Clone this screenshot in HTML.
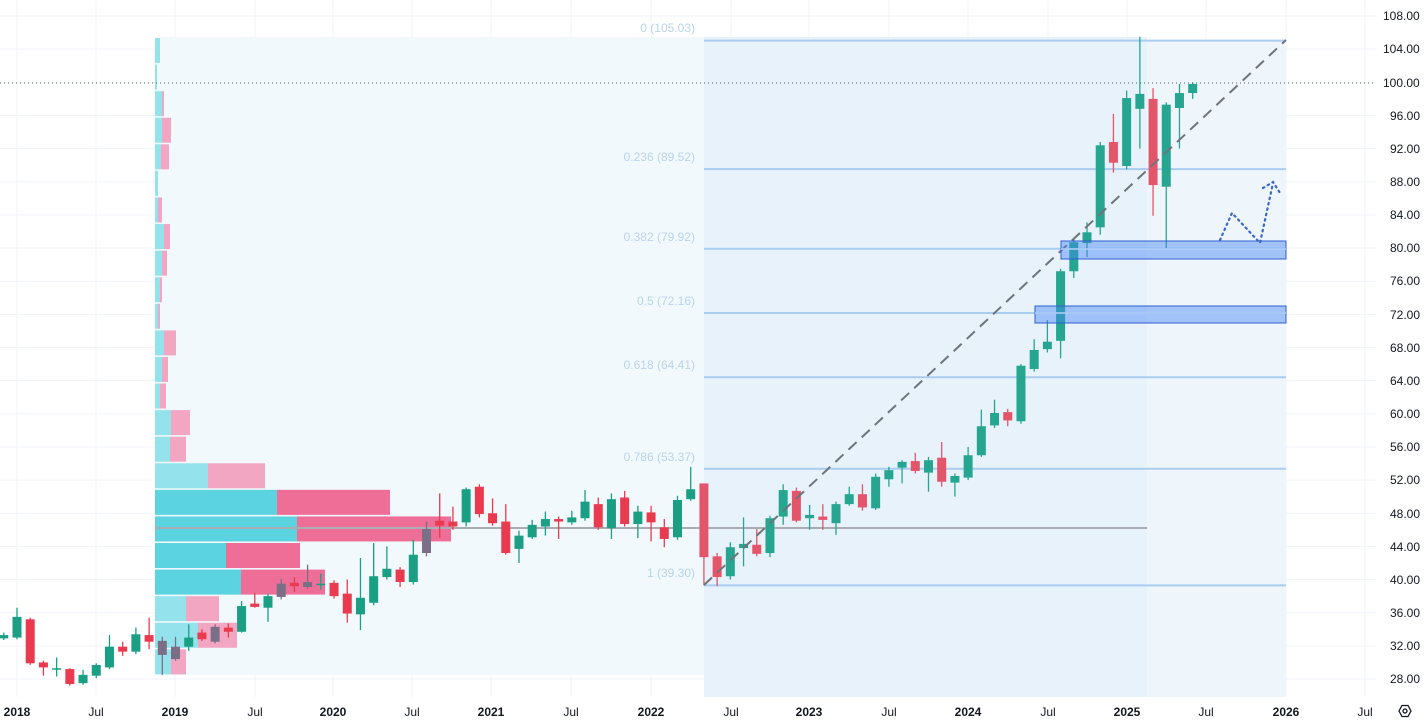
<!DOCTYPE html>
<html><head><meta charset="utf-8"><style>
html,body{margin:0;padding:0;background:#fff;}
svg{display:block;font-family:"Liberation Sans",sans-serif;}
</style></head><body>
<svg id="c" width="1424" height="724" viewBox="0 0 1424 724" xmlns="http://www.w3.org/2000/svg">
<rect width="1424" height="724" fill="#fff"/>
<g id="grid" stroke="#f0f3fa" stroke-width="1"></g>
<rect x="155" y="37" width="549" height="638" fill="#f2f9fd"/>
<rect x="704" y="37" width="443" height="660" fill="#e7f2fb"/>
<rect x="1147" y="40" width="139" height="657" fill="#eef6fc"/>
<g id="vp"></g>
<line x1="155" y1="528" x2="1147" y2="528" stroke="#a9adb3" stroke-width="2"/>
<g id="fib" stroke="#a9cdef" stroke-width="2"></g>
<g font-size="12" fill="#b9d3ea" text-anchor="end">
<text x="695" y="32">0 (105.03)</text>
<text x="695" y="161">0.236 (89.52)</text>
<text x="695" y="241">0.382 (79.92)</text>
<text x="695" y="305">0.5 (72.16)</text>
<text x="695" y="369">0.618 (64.41)</text>
<text x="695" y="461">0.786 (53.37)</text>
<text x="695" y="577">1 (39.30)</text>
</g>
<g id="candles"></g>
<line x1="704" y1="585" x2="1286" y2="40" stroke="#6f737a" stroke-width="2" stroke-dasharray="11 7"/>
<rect x="1061" y="241" width="225" height="18" fill="rgba(66,133,244,0.45)" stroke="#2f5fd0" stroke-width="1"/>
<line x1="1061" y1="249" x2="1286" y2="249" stroke="#b6d2f5" stroke-width="1.5"/>
<rect x="1035" y="306" width="251" height="17" fill="rgba(66,133,244,0.45)" stroke="#2f5fd0" stroke-width="1"/>
<line x1="1035" y1="313" x2="1286" y2="313" stroke="#b6d2f5" stroke-width="1.5"/>
<line x1="0" y1="83" x2="1375" y2="83" stroke="#55595f" stroke-width="1" stroke-dasharray="1 3"/>
<g fill="none" stroke="#3b66c8" stroke-width="2.2" stroke-dasharray="1.5 4" stroke-linecap="round">
<polyline points="1220,240 1232,213 1260,243 1273,183"/>
<polyline points="1263,188 1273,182 1280,193"/>
</g>
<rect x="1376" y="0" width="48" height="724" fill="#fff"/>
<rect x="0" y="697" width="1376" height="27" fill="#fff"/>
<g font-size="12" fill="#131722" text-anchor="start">
<text x="1383" y="20">108.00</text>
<text x="1383" y="53">104.00</text>
<text x="1383" y="87">100.00</text>
<text x="1390" y="120">96.00</text>
<text x="1390" y="153">92.00</text>
<text x="1390" y="186">88.00</text>
<text x="1390" y="219">84.00</text>
<text x="1390" y="252">80.00</text>
<text x="1390" y="285">76.00</text>
<text x="1390" y="319">72.00</text>
<text x="1390" y="352">68.00</text>
<text x="1390" y="385">64.00</text>
<text x="1390" y="418">60.00</text>
<text x="1390" y="451">56.00</text>
<text x="1390" y="484">52.00</text>
<text x="1390" y="518">48.00</text>
<text x="1390" y="551">44.00</text>
<text x="1390" y="584">40.00</text>
<text x="1390" y="617">36.00</text>
<text x="1390" y="650">32.00</text>
<text x="1390" y="683">28.00</text>
</g>
<g font-size="12" fill="#131722" text-anchor="middle">
<text x="17" y="716" font-weight="bold">2018</text>
<text x="96" y="716">Jul</text>
<text x="175" y="716" font-weight="bold">2019</text>
<text x="255" y="716">Jul</text>
<text x="333" y="716" font-weight="bold">2020</text>
<text x="412" y="716">Jul</text>
<text x="491" y="716" font-weight="bold">2021</text>
<text x="571" y="716">Jul</text>
<text x="651" y="716" font-weight="bold">2022</text>
<text x="731" y="716">Jul</text>
<text x="809" y="716" font-weight="bold">2023</text>
<text x="889" y="716">Jul</text>
<text x="968" y="716" font-weight="bold">2024</text>
<text x="1048" y="716">Jul</text>
<text x="1127" y="716" font-weight="bold">2025</text>
<text x="1206" y="716">Jul</text>
<text x="1286" y="716" font-weight="bold">2026</text>
<text x="1365" y="716">Jul</text>
</g>
<g transform="translate(1405,711)" fill="none" stroke="#131722" stroke-width="1.3">
<polygon points="-6,0 -3,-5.5 3,-5.5 6,0 3,5.5 -3,5.5"/>
<circle r="2"/>
</g>
</svg>
<script>
const NS="http://www.w3.org/2000/svg";
const Y=p=>16+(108-p)*8.2875;
const X=m=>17+13.21*m;
function el(t,a,parent){const e=document.createElementNS(NS,t);for(const k in a)e.setAttribute(k,a[k]);parent.appendChild(e);return e;}
const grid=document.getElementById('grid');
for(let p=28;p<=108;p+=4){el('line',{x1:0,x2:1376,y1:Y(p),y2:Y(p)},grid);}
[17,96,175,255,333,412,491,571,651,731,809,889,968,1048,1127,1206,1286,1365].forEach(x=>el('line',{x1:x,x2:x,y1:0,y2:697},grid));
const vp=document.getElementById('vp');
const rows=[[160,160],[157,157],[162,164],[162,171],[161,169],[158,158],[158,162],[164,170],[162,167],[160,162],[158,160],[164,176],[162,168],[160,166],[171,190],[170,186],[208,265],[277,390],[297,451],[226,300],[241,325],[186,219],[198,237],[171,186]];
rows.forEach((r,i)=>{const y=37+26.58*i;const sat=i>=17&&i<=20;
el('rect',{x:155,y:y+1,width:r[0]-155,height:25,fill:sat?'#5cd3e1':'#93e2ec'},vp);
if(r[1]>r[0])el('rect',{x:r[0],y:y+1,width:r[1]-r[0],height:25,fill:sat?'#ee6e98':'#f2a6c1'},vp);});
const fib=document.getElementById('fib');
[105.03,89.52,79.92,72.16,64.41,53.37,39.30].forEach(p=>el('line',{x1:704,x2:1286,y1:Y(p),y2:Y(p)},fib));
const D=[[-1,32.9,33.3,33.6,32.7],[0,33,35.5,36.6,32.8],[1,35.2,29.9,35.4,29.7],[2,30,29.4,30.2,28.4],[3,29.3,29.3,30.6,28.3],[4,29.2,27.4,29.3,27.2],[5,27.5,28.5,29.1,27.3],
[6,28.4,29.7,29.9,28.1],[7,29.4,31.9,33.3,29.2],[8,31.9,31.3,32.5,30.8],[9,31.3,33.4,34.2,31],[10,33.3,32.5,35.4,31.6],[11,32.6,30.9,33.1,28.5,'g'],
[12,31.9,30.4,33.1,30.2,'g'],[13,31.9,33,34.6,31.4],[14,33.6,32.8,34,32.6],[15,32.5,34.3,34.6,32.3,'g'],[16,34.2,33.7,34.7,33],[17,33.7,36.8,37.4,33.6],
[18,37.1,36.7,38.4,36.6],[19,36.6,38,38.3,34.9],[20,37.9,39.5,40.1,37.6,'g'],[21,39.6,39.2,40.3,38.5],[22,39.7,39.1,41.8,38.9,'g'],[23,39.5,39.5,40.7,38.8],
[24,39.6,38,39.9,37.7],[25,38.3,35.9,40,34.8],[26,35.8,37.8,42.6,33.9],[27,37.2,40.4,44.4,36.9],[28,40.3,41.3,44,40],[29,41.2,39.7,41.5,39.1],
[30,39.7,43,44.8,39.4],[31,43.2,46.1,47,42.8,'g'],[32,47.1,46.5,50.4,45],[33,47,46.4,48.8,46],[34,46.9,50.9,51.1,46.4],[35,51.2,47.9,51.5,47.5],
[36,48,46.8,49.8,46.5],[37,47,43.2,49.1,43],[38,43.7,45.3,45.9,42],[39,45.1,46.6,47.2,44.9],[40,46.4,47.3,48.2,45.3],[41,47.3,47,47.6,44.9],
[42,46.9,47.5,48.3,46.6],[43,47.4,49.4,50.8,47.1],[44,49.1,46.3,49.9,46],[45,46.2,49.7,50.4,44.9],[46,49.9,46.7,50.7,46.4],[47,46.7,48.2,48.9,45],
[48,48.1,46.9,48.9,44.6],[49,46.3,44.9,47.3,43.9],[50,45.1,49.6,50.1,44.8],[51,49.7,50.9,53.6,49.5],[52,51.6,42.7,51.6,39.3],[53,42.8,40.3,43.2,39.2],
[54,40.4,43.9,44.5,40],[55,43.8,44.3,47.5,41.6],[56,44.2,43.1,46.1,42.8],[57,43.2,47.4,47.7,42.7],[58,47.6,50.8,51.5,46.6],[59,50.7,47.1,51.1,46.9],
[60,47.4,47.8,49,46],[61,47.6,47.2,49.1,46],[62,46.8,49.1,49.4,45.4],[63,49.1,50.3,51.2,48.9],[64,50.3,48.7,51.5,48.3],[65,48.6,52.4,52.8,48.4],
[66,52.1,53.2,53.6,51.2],[67,53.5,54.2,54.4,51.6],[68,54.3,53.1,55.3,52.8],[69,52.9,54.4,54.8,50.6],[70,54.7,51.8,56.6,51.2],[71,51.7,52.5,52.8,50],
[72,52.3,55,56,52],[73,55,58.5,60.5,54.8],[74,58.6,60.1,61.7,58.3],[75,60.2,59.2,60.6,58.5],[76,59.1,65.8,66,58.8],[77,65.4,67.7,69,65.1],
[78,67.8,68.7,71.3,67.4],[79,68.8,77.2,77.5,66.7],[80,77.2,80.7,81.2,76.4],[81,80.6,81.9,83.1,78.9],[82,82.5,92.4,92.8,81.6],[83,92.8,90.3,96.2,89.1],
[84,89.9,98.1,99,89.5],[85,96.8,98.6,105.5,92],[86,98,87.6,99.3,83.9],[87,87.4,97.3,97.6,80],[88,96.9,98.7,99.8,92],[89,98.7,99.8,100,98]];
const cg=document.getElementById('candles');
D.forEach(d=>{const [m,o,c,h,l,g]=d;const x=X(m);
let col=c>=o?'#1a9e84':'#ea3a4f';
if(m>=52)col=c>=o?'#26a690':'#e3566a';
if(g)col='#7a6f86';
el('line',{x1:x,x2:x,y1:Y(h),y2:Y(l),stroke:col,'stroke-width':1.3},cg);
const t=Math.min(Y(o),Y(c)),b=Math.max(Y(o),Y(c));
el('rect',{x:x-4.5,y:t,width:9,height:Math.max(1.5,b-t),fill:col},cg);});
</script>
</body></html>
